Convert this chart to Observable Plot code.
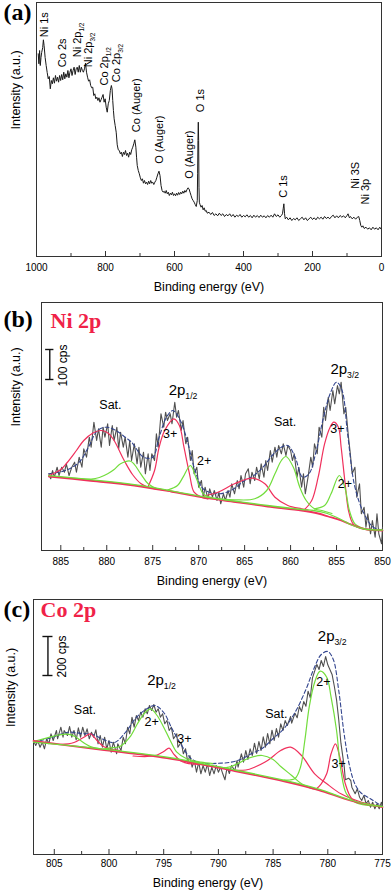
<!DOCTYPE html>
<html><head><meta charset="utf-8">
<script src="https://cdn.jsdelivr.net/npm/d3@7"></script>
<script src="https://cdn.jsdelivr.net/npm/@observablehq/plot@0.6"></script>
<style>
body{margin:0;background:#fff}
#wrap{position:relative;width:392px;height:893px;overflow:hidden;background:#fff}
</style></head><body><div id="wrap"></div>
<script>
// ---------- Panel (a): survey spectrum  [binding energy eV, intensity a.u.] ----------
const surveyTicksMajor = [0, 200, 400, 600, 800, 1000];
const surveyTicksMinor = [100, 300, 500, 700, 900];
const survey = [[995,202.7],[993,192.7],[991,206],[989,191],[987,199],[985,204],[982,209],[980,216.7],[978,211],[975,199],[972,191],[969,184],[966,177.7],[963,180],[960,167.7],[957,176],[954,172.7],[951,178.7],[948,173.3],[945,181],[942,175.3],[939,179.3],[936,174.3],[933,181],[930,176],[927,182],[924,176.7],[921,184.3],[918,177.7],[915,182.7],[912,179.3],[909,186],[906,178.7],[903,184.3],[900,187.7],[897,181],[894,186],[891,189.3],[888,182],[885,187.7],[882,189.3],[879,184.3],[876,191],[873,184.3],[870,189.3],[867,186],[864,184.3],[861,187.7],[858,193.3],[855,184.3],[852,179.3],[849,175.3],[846,176.7],[843,171],[840,168.7],[837,169.3],[834,161],[831,162.7],[828,157.7],[825,159.3],[822,156],[819,158.7],[816,154.3],[813,156.7],[810,159.3],[807,162],[804,154.3],[801,157.7],[798,149.3],[795,144.3],[792,152.7],[789,156],[786,166],[783,171],[781,167.7],[779,156],[777,146],[775,137.7],[772,131],[769,124.3],[766,111.7],[763,106.7],[760,106],[757,102.7],[754,104.3],[751,100],[748,104.3],[745,102],[742,106],[739,101],[736,103.3],[733,99.3],[730,104.3],[727,102],[724,106.7],[721,109.3],[718,112.7],[715,116.7],[712,109.3],[710,99.3],[708,91],[705,86],[702,82.7],[699,78.7],[696,76],[693,77.7],[690,73.3],[687,76],[684,72.7],[681,74.3],[678,72],[675,75.3],[672,72.7],[669,76],[666,73.3],[663,74.3],[660,72],[657,74.3],[654,76],[651,79.3],[648,82.7],[645,85.3],[642,81],[639,71],[636,66],[633,64.3],[630,65.3],[627,63.3],[624,66],[621,62.7],[618,64.3],[615,61],[612,63.3],[609,61.7],[606,64.3],[603,61],[600,62.7],[597,60.7],[594,63.3],[591,61.3],[588,64],[585,62],[582,64.3],[579,62.7],[576,65.3],[573,63.3],[570,66],[567,64.3],[564,66.7],[561,68.7],[558,67.7],[555,64.3],[552,61],[549,57.7],[546,56],[543,54.3],[540,52],[537,50],[534,56],[533,82.7],[532,116],[531,134.3],[530,116],[529,69.3],[528,54.3],[526,52],[523,49.3],[520,51],[517,46.7],[514,48.7],[511,45.3],[508,46],[505,43.3],[500,44.3],[495,42],[490,44],[485,41],[480,42.7],[475,40.7],[470,43.3],[465,41],[460,42.7],[455,40],[450,42],[445,40.7],[440,42.7],[435,40],[430,42],[425,39.3],[420,41.3],[415,40],[410,42],[405,39.3],[400,41],[395,39.7],[390,41.7],[385,39.3],[380,41],[375,38.7],[370,41.3],[365,39.3],[360,41],[355,39],[350,41.3],[345,39.3],[340,40.7],[335,38.7],[330,41],[325,39.3],[320,41.3],[315,39.3],[310,42.7],[305,40],[300,41.7],[295,39.3],[290,41],[287,42.7],[285,47.7],[283,52.7],[281,42.7],[279,37.7],[275,39.3],[270,36.7],[265,38.7],[260,36],[255,38],[250,36.7],[245,38.7],[240,36],[235,37.7],[230,39.3],[225,36.7],[220,38.7],[215,36],[210,37.7],[205,39.3],[200,37],[195,38.7],[190,36.7],[185,39.3],[180,37.7],[175,39.3],[170,37.3],[165,40],[160,38],[155,39.3],[150,37.7],[145,40],[140,41.3],[135,38.7],[130,40.7],[125,38.7],[120,41],[115,39.3],[110,40.7],[105,38.7],[100,41],[97,42.7],[93,38.7],[90,40],[85,37.7],[80,39.3],[75,37.3],[70,39.3],[66,40],[63,36],[60,31],[57,29.3],[54,30.7],[50,28],[45,29.3],[40,27.3],[35,28.7],[30,26.7],[25,29.3],[20,27.3],[15,28.7],[10,26.7],[5,29.3],[2,27.7]];
const surveyLabels = [
  {e: 977.8, i: 219.3, t: "Ni 1s"},
  {e: 924.7, i: 189.3, t: "Co 2s"},
  {e: 882.0, i: 199.3, t: "Ni 2p_{1/2}"},
  {e: 850.0, i: 189.3, t: "Ni 2p_{3/2}"},
  {e: 804.0, i: 171.0, t: "Co 2p_{1/2}"},
  {e: 768.3, i: 174.3, t: "Co 2p_{3/2}"},
  {e: 709.5, i: 124.3, t: "Co (Auger)"},
  {e: 644.8, i: 92.7, t: "O (Auger)"},
  {e: 557.9, i: 77.7, t: "O (Auger)"},
  {e: 524.1, i: 144.3, t: "O 1s"},
  {e: 282.8, i: 58.7, t: "C 1s"},
  {e: 75.3, i: 67.7, t: "Ni 3S"},
  {e: 46.3, i: 52.0, t: "Ni 3p"}
];

// ---------- Panel (b): Ni 2p ----------
const niTicksMajor = [850, 855, 860, 865, 870, 875, 880, 885];
const niTicksMinor = [852.5, 857.5, 862.5, 867.5, 872.5, 877.5, 882.5];
const niRaw = [[886.3,76.7],[886.1,71.7],[885.9,80],[885.7,73.3],[885.4,83.3],[885.2,75],[884.9,83.3],[884.6,78.3],[884.4,86.7],[884.1,75],[883.8,83.3],[883.5,88.3],[883.3,78.3],[883.0,93.3],[882.7,83.3],[882.5,101.7],[882.2,93.3],[881.9,113.3],[881.7,103.3],[881.4,128.3],[881.1,110],[880.9,121.7],[880.6,103.3],[880.4,123.3],[880.2,113.3],[879.9,126.7],[879.7,105],[879.4,125],[879.2,110],[878.9,123.3],[878.7,101.7],[878.5,118.3],[878.2,103.3],[878.0,113.3],[877.7,93.3],[877.5,110],[877.3,90],[877.0,106.7],[876.7,86.7],[876.5,103.3],[876.3,83.3],[876.0,98.3],[875.8,76.7],[875.5,96.7],[875.3,80],[875.1,96.7],[874.8,90],[874.6,116.7],[874.4,103.3],[874.1,136.7],[873.8,123.3],[873.6,138.3],[873.4,130],[873.1,136.7],[872.9,126.7],[872.6,148.3],[872.4,133.3],[872.2,140],[871.9,120],[871.7,130],[871.4,106.7],[871.2,113.3],[870.9,90],[870.7,100],[870.5,76.7],[870.2,83.3],[870.0,63.3],[869.7,70],[869.5,53.3],[869.3,63.3],[869.0,51.7],[868.8,61.7],[868.5,53.3],[868.3,60],[868.0,50],[867.8,58.3],[867.6,46.7],[867.3,56.7],[867.1,50],[866.8,60],[866.6,53.3],[866.4,66.7],[866.1,56.7],[865.8,70],[865.6,61.7],[865.4,75],[865.1,63.3],[864.9,76.7],[864.6,81.7],[864.4,66.7],[864.2,78.3],[863.9,70],[863.7,83.3],[863.4,71.7],[863.2,86.7],[862.9,73.3],[862.7,90],[862.5,80],[862.2,100],[862.0,88.3],[861.7,103.3],[861.5,93.3],[861.3,105],[861.0,96.7],[860.8,106.7],[860.5,95],[860.3,105],[860.0,100],[859.8,90],[859.6,96.7],[859.3,73.3],[859.1,83.3],[858.8,63.3],[858.6,76.7],[858.4,56.7],[858.1,73.3],[857.8,93.3],[857.6,83.3],[857.4,106.7],[857.1,96.7],[856.9,123.3],[856.6,113.3],[856.4,143.3],[856.2,130],[855.9,153.3],[855.7,140],[855.4,160],[855.2,146.7],[854.9,165],[854.7,156.7],[854.5,168.3],[854.2,136.7],[854.0,143.3],[853.7,113.3],[853.5,96.7],[853.3,76.7],[853.0,83.3],[852.8,53.3],[852.5,66.7],[852.3,36.7],[852.0,43.3],[851.8,23.3],[851.6,36.7],[851.3,16.7],[851.1,30],[850.8,13.3],[850.6,36.7],[850.4,16.7],[850.1,6.7],[850.0,23.3]];
const niEnvelope = [[886.3,76.7],[884.5,80],[883,88.3],[882,103.3],[881,120],[880,123.3],[879,120],[878,113.3],[877.3,108.3],[876,93.3],[875,93.3],[874.3,113.3],[873.5,133.3],[872.8,140],[872,130],[871.3,111.7],[870.5,83.3],[869.5,61.7],[868,56.7],[866.5,60],[865,70],[864,75],[863,83.3],[862,95],[861,103.3],[860.3,105],[859.5,93.3],[858.7,73.3],[858,76.7],[857.2,100],[856.5,130],[855.7,156.7],[855,168.3],[854.4,160],[853.8,116.7],[853,63.3],[852,36.7],[851,23.3],[850,20.7]];
const niRed = [
  [[886.3,75],[885,81],[884.3,88],[883.3,100],[882.5,110],[881.5,117.5],[880.6,120],[879.8,117],[879.2,110],[878.1,90],[877.2,76],[876.3,67],[875.5,63.3],[874.5,61]],
  [[875.5,64],[874.8,80],[874.3,103.3],[873.7,120],[872.7,131.7],[872.1,125],[871.6,103.3],[871,76.7],[870.5,58.3],[869.7,53.3],[869,51.5]],
  [[869.7,54],[867.9,58.3],[866.1,66.7],[864.1,72.3],[862.8,66.7],[861.7,53.3],[860.3,45],[858.8,41.7],[858.1,40.5]],
  [[858.5,40.7],[857.7,50],[857,73.3],[856.3,106.7],[855.7,123.3],[855.3,128.3],[854.8,123.3],[854.5,103.3],[854.1,70],[853.7,40],[853.2,26.7],[852.3,21.7],[851,20.5]]
];
const niGreen = [
  [[886.3,74.5],[884,72.5],[881.7,71.5],[880.8,73],[879.9,76.7],[879.2,81],[878.5,86.7],[877.4,89.3],[876.3,76.7],[875.5,66.7],[874.5,61.7],[873.5,60],[872.6,58]],
  [[873.4,60.5],[872.3,65],[871.7,73.3],[870.9,85],[870.3,73.3],[869.5,56.7],[868.6,52.7],[867.5,51]],
  [[869.7,53.3],[866.1,50.7],[863.9,51.7],[862.6,60],[861.7,76.7],[861,90],[860.5,94],[859.7,83.3],[859,63.3],[858.3,50],[857.4,41.7],[856.6,40],[855.5,37]],
  [[857.4,41.7],[856.3,45],[855.6,56.7],[854.7,75],[854.1,63.3],[853.6,40],[853,26.7],[851.9,21.7],[850.5,20.5]]
];
const niBgRed = [[886.3,74],[882,70],[877,65],[873,59],[869.7,53.3],[866,48.5],[862.5,44],[858.8,40],[857,37],[855.9,34],[854.5,30],[853.7,27],[852.5,23],[851.6,21],[850,20]];
const niBgGreen = [[886.3,74.8],[877,65.8],[869.7,54.2],[862.5,45],[858.8,41],[857.5,40],[856,37],[854.5,31],[853.5,26],[852,21.5],[850,20.5]];
const niPeakLabels = [{e: 871.7, i: 160, t: "2p_{1/2}"}, {e: 854.1, i: 181, t: "2p_{3/2}"}];
const niLabels = [{e: 879.6, i: 146, t: "Sat."}, {e: 873.1, i: 116.7, t: "3+"}, {e: 869.4, i: 90, t: "2+"}, {e: 860.6, i: 128.3, t: "Sat."}, {e: 854.9, i: 121.7, t: "3+"}, {e: 854.1, i: 66.7, t: "2+"}];
const niScale = {e: 886.2, top: 201, bottom: 171, cap: 0.45, labelE: 884.75, labelI: 185, t: "100 cps"};

// ---------- Panel (c): Co 2p ----------
const coTicksMajor = [775, 780, 785, 790, 795, 800, 805];
const coTicksMinor = [777.5, 782.5, 787.5, 792.5, 797.5, 802.5];
const coRaw = [[806.9,114],[806.7,109],[806.5,113.3],[806.3,107.3],[806.1,112.3],[805.9,105.7],[805.7,115.7],[805.5,110.7],[805.3,120.7],[805.1,114],[804.8,124],[804.7,115.7],[804.4,127.3],[804.2,117.3],[804.1,124],[803.8,119],[803.6,128],[803.4,117.3],[803.2,124],[803.0,114.7],[802.8,126.7],[802.6,117.3],[802.4,127.3],[802.2,119],[802.0,125.7],[801.8,115.7],[801.6,122.3],[801.4,117.3],[801.2,124.7],[801.0,110.7],[800.8,119],[800.6,107.3],[800.4,117.3],[800.2,105.7],[800.0,114],[799.8,102.3],[799.6,112.3],[799.3,100.7],[799.2,110.7],[798.9,104],[798.7,117.3],[798.5,110.7],[798.3,127.3],[798.1,120.7],[797.9,137.3],[797.7,127.3],[797.5,139],[797.3,134],[797.1,142.3],[796.9,137.3],[796.7,145.7],[796.5,140.7],[796.3,149],[796.1,144],[795.9,150],[795.7,142.3],[795.5,145.7],[795.3,137.3],[795.1,140.7],[794.9,130.7],[794.7,134],[794.5,124],[794.3,127.3],[794.1,115.7],[793.8,120.7],[793.7,107.3],[793.4,112.3],[793.2,100.7],[793.0,105.7],[792.8,92.3],[792.6,99],[792.4,87.3],[792.2,94],[792.0,82.3],[791.8,92.3],[791.6,80.7],[791.4,89],[791.2,82.3],[791.0,90.7],[790.8,79],[790.6,87.3],[790.4,80.7],[790.2,89],[790.0,82.3],[789.8,87.3],[789.6,80.7],[789.4,74.7],[789.2,87.3],[789.0,81],[788.8,89],[788.5,84],[788.3,94],[788.2,87.3],[787.9,100.7],[787.7,92.3],[787.5,104],[787.3,95],[787.1,105.7],[786.9,99],[786.7,111.3],[786.5,101],[786.3,113],[786.1,104],[785.9,117.7],[785.7,107.3],[785.5,121],[785.3,110.7],[785.1,124.3],[784.9,114],[784.7,126],[784.5,117.3],[784.3,130.7],[784.1,124],[783.9,134],[783.7,129],[783.4,138],[783.3,131.3],[783.0,141.3],[782.8,136.7],[782.6,148],[782.4,143],[782.2,153],[782.0,148.3],[781.8,163.3],[781.6,156.7],[781.4,176.7],[781.2,183.3],[781.0,190],[780.8,185],[780.6,194],[780.4,188],[780.2,198],[780.0,189.7],[779.8,184.7],[779.6,179.7],[779.4,168],[779.2,154.7],[779.0,134.7],[778.8,111.3],[778.5,88],[778.4,74.7],[778.1,76.3],[777.9,74],[777.8,67.3],[777.5,60.7],[777.3,65.7],[777.1,57.3],[776.9,54],[776.7,59],[776.5,50.7],[776.3,54],[776.1,47.3],[775.9,52.3],[775.7,45.7],[775.5,50.7],[775.3,45.7],[775.1,52.3],[775.0,48]];
const coEnvelope = [[806.9,112.3],[805.5,116],[803.7,122.3],[802.5,121],[801.5,120],[800.5,115],[799.5,112],[798.5,122],[797.5,137],[796.5,146],[795.8,149],[795,142],[794.2,125],[793.3,108],[792.5,96],[791.5,91],[790,91.3],[789,92],[788,95],[787,100.7],[786,106],[785,116],[784,126],[783,142],[782,165],[781.3,185],[780.6,200],[780,203],[779.5,195],[779,164],[778.5,120],[778,88],[777.5,70],[777,62],[776,55],[775,48]];
const coRed = [
  [[804.5,110],[803.2,112],[802.3,117.3],[801.7,120.7],[801.1,114],[800.5,108],[799.9,105.5],[799,104]],
  [[797.8,98.5],[796.5,98],[795.6,99.5],[795,103],[794.5,106.3],[794.1,100.7],[793.5,94],[792.9,91.3],[791.8,90]],
  [[789,84.5],[787.5,84.5],[786.7,87.3],[785.5,94],[784.3,104],[783.4,107.3],[782.4,99],[781.2,80.7],[780,70],[778.8,60.7],[776.9,52.3],[775,48]],
  [[781,66],[780.6,70.7],[780.1,80.7],[779.7,100.7],[779.3,110.7],[778.9,97.3],[778.4,70.7],[777.8,55.7],[776.9,50.7],[775.5,48.5]]
];
const coGreen = [
  [[806.9,113],[805.4,117.3],[804.6,119.5],[803.8,120.3],[803.1,118],[802.6,114],[801.7,108],[800.8,105.7],[800,104.5]],
  [[800.5,105.5],[799.9,106.7],[799,108],[798.1,117.3],[797.4,130.7],[796.8,140.7],[796.2,145.7],[795.6,139],[795,127.3],[794.4,114],[793.8,102.3],[792.9,95.7],[791.6,92.3],[790.5,91]],
  [[791.5,90],[790,87.5],[789.2,87],[788.2,91],[787.2,96.5],[786,99],[785,95],[784.3,88],[783.3,79],[782.4,70.7],[781.5,66],[780.5,64]],
  [[784,74.5],[783,76],[782.5,87.3],[782.1,114],[781.7,147.3],[781.2,172.3],[780.7,183.3],[780.1,177.3],[779.7,157.3],[779.2,124],[778.8,84],[778.3,60.7],[777.5,52.3],[776.3,49],[775,48]]
];
const coBgRed = [[806.9,113.5],[800.8,105],[794.7,96.3],[788.5,83.5],[783.9,73],[780.9,64.7],[777.8,53.5],[775,47.5]];
const coBgGreen = [[806.9,112.3],[800.8,105.7],[794.7,97.3],[788.5,84.5],[783.9,74],[780.9,65.7],[777.8,54],[776,49.5],[775,48]];
const coPeakLabels = [{e: 795.2, i: 174, t: "2p_{1/2}"}, {e: 779.6, i: 218, t: "2p_{3/2}"}];
const coLabels = [{e: 802.2, i: 144.5, t: "Sat."}, {e: 796.1, i: 132.3, t: "2+"}, {e: 793.1, i: 116, t: "3+"}, {e: 784.7, i: 140.7, t: "Sat."}, {e: 780.4, i: 172.3, t: "2+"}, {e: 779.0, i: 91, t: "3+"}];
const coScale = {e: 805.58, top: 218, bottom: 179, cap: 0.46, labelE: 804.24, labelI: 198, t: "200 cps"};

// ---------- drawing ----------
const RED = "#f0305c", GREEN = "#72dd3c", BLUE = "#34468f", GRAY = "#505050";
const X = d => d[0], Y = d => d[1];

function xAxis(major, minor, pad) {
  return [
    Plot.axisX({ticks: major, tickSize: -5, tickPadding: pad, fontSize: 10, label: null, tickFormat: d => String(d), stroke: "#333"}),
    Plot.axisX({ticks: minor, tickSize: -3, tickFormat: () => "", label: null, stroke: "#333"})
  ];
}
function titles(ydx, xdy) {
  return [
    Plot.text(["Binding energy (eV)"], {text: d => d, frameAnchor: "bottom", dy: xdy, lineAnchor: "middle", fontSize: 12.5}),
    Plot.text(["Intensity (a.u.)"], {text: d => d, frameAnchor: "left", dx: ydx, rotate: -90, lineAnchor: "middle", fontSize: 12.5})
  ];
}
function panelLabel(t, dx, dy) {
  return Plot.text([t], {text: d => d, frameAnchor: "top-left", dx, dy, textAnchor: "start", lineAnchor: "bottom",
    fontFamily: "'Liberation Serif', serif", fontWeight: "bold", fontSize: 24});
}
function elementLabel(t, dx, dy) {
  return Plot.text([t], {text: d => d, frameAnchor: "top-left", dx, dy, textAnchor: "start", lineAnchor: "bottom",
    fontFamily: "'Liberation Serif', serif", fontWeight: "bold", fontSize: 22, fill: "#f02248"});
}
function scaleBar(s) {
  const caps = [{y: s.top}, {y: s.bottom}];
  return [
    Plot.ruleX([s], {x: "e", y1: "top", y2: "bottom", stroke: "#111", strokeWidth: 1.4}),
    Plot.ruleY(caps, {y: "y", x1: () => s.e + s.cap, x2: () => s.e - s.cap, stroke: "#111", strokeWidth: 1.4}),
    Plot.text([s], {x: "labelE", y: "labelI", text: "t", rotate: -90, lineAnchor: "middle", fontSize: 12})
  ];
}
function fitMarks(raw, env, reds, greens, bgRed, bgGreen) {
  return [
    Plot.line(raw, {x: X, y: Y, stroke: GRAY, strokeWidth: 1.1}),
    Plot.line(env, {x: X, y: Y, stroke: BLUE, strokeWidth: 1.1, strokeDasharray: "4,2.5", curve: "catmull-rom"}),
    ...reds.map(c => Plot.line(c, {x: X, y: Y, stroke: RED, strokeWidth: 1.2, curve: "catmull-rom"})),
    ...greens.map(c => Plot.line(c, {x: X, y: Y, stroke: GREEN, strokeWidth: 1.2, curve: "catmull-rom"})),
    Plot.line(bgRed, {x: X, y: Y, stroke: RED, strokeWidth: 1.8, curve: "catmull-rom"}),
    Plot.line(bgGreen, {x: X, y: Y, stroke: GREEN, strokeWidth: 1.3, curve: "catmull-rom"})
  ];
}
function panel(cfg) {
  const svg = Plot.plot({
    width: 392, height: cfg.height,
    marginTop: cfg.mt, marginBottom: cfg.mb, marginLeft: cfg.ml, marginRight: cfg.mr,
    style: {fontFamily: "'Liberation Sans', Arial, sans-serif", fontSize: "10px", overflow: "visible", background: "transparent"},
    x: {domain: cfg.xDomain},
    y: {domain: cfg.yDomain, axis: null},
    marks: cfg.marks
  });
  svg.style.position = "absolute";
  svg.style.left = "0px";
  svg.style.top = cfg.top + "px";
  // subscripts: "xx_{yy}"
  d3.select(svg).selectAll("text").each(function () {
    const s = this.textContent;
    const m = s.match(/^(.*)_\{(.*)\}$/);
    if (!m) return;
    const el = d3.select(this);
    el.text(null);
    el.append("tspan").text(m[1]);
    el.append("tspan").attr("font-size", "0.58em").attr("dy", "0.45em").text(m[2]);
  });
  document.getElementById("wrap").appendChild(svg);
}

// (a)
panel({
  top: 0, height: 295, mt: 2, mb: 39, ml: 36, mr: 11,
  xDomain: [1000, 0], yDomain: [0, 254],
  marks: [
    Plot.frame({stroke: "#333"}),
    ...xAxis(surveyTicksMajor, surveyTicksMinor, 12.5),
    Plot.line(survey, {x: X, y: Y, stroke: "#1a1a1a", strokeWidth: 1}),
    Plot.text(surveyLabels, {x: "e", y: "i", text: "t", rotate: -90, textAnchor: "start", lineAnchor: "middle", fontSize: 11}),
    ...titles(-21, 30),
    panelLabel("(a)", -33, 17.5)
  ]
});
// (b)
panel({
  top: 295, height: 295, mt: 7, mb: 40, ml: 41, mr: 10,
  xDomain: [887.1, 850], yDomain: [0, 248],
  marks: [
    Plot.frame({stroke: "#333"}),
    ...xAxis(niTicksMajor, niTicksMinor, 12.5),
    ...fitMarks(niRaw, niEnvelope, niRed, niGreen, niBgRed, niBgGreen),
    Plot.text(niPeakLabels, {x: "e", y: "i", text: "t", lineAnchor: "middle", fontSize: 15}),
    Plot.text(niLabels, {x: "e", y: "i", text: "t", lineAnchor: "middle", fontSize: 12.5}),
    ...scaleBar(niScale),
    ...titles(-26, 30),
    panelLabel("(b)", -38, 24.5),
    elementLabel("Ni 2p", 9, 25)
  ]
});
// (c)
panel({
  top: 590, height: 303, mt: 9, mb: 39, ml: 33, mr: 10,
  xDomain: [806.9, 775], yDomain: [0, 255],
  marks: [
    Plot.frame({stroke: "#333"}),
    ...xAxis(coTicksMajor, coTicksMinor, 10.5),
    ...fitMarks(coRaw, coEnvelope, coRed, coGreen, coBgRed, coBgGreen),
    Plot.text(coPeakLabels, {x: "e", y: "i", text: "t", lineAnchor: "middle", fontSize: 15}),
    Plot.text(coLabels, {x: "e", y: "i", text: "t", lineAnchor: "middle", fontSize: 12.5}),
    ...scaleBar(coScale),
    ...titles(-23, 28),
    panelLabel("(c)", -30, 17.5),
    elementLabel("Co 2p", 7, 17)
  ]
});
</script></body></html>
